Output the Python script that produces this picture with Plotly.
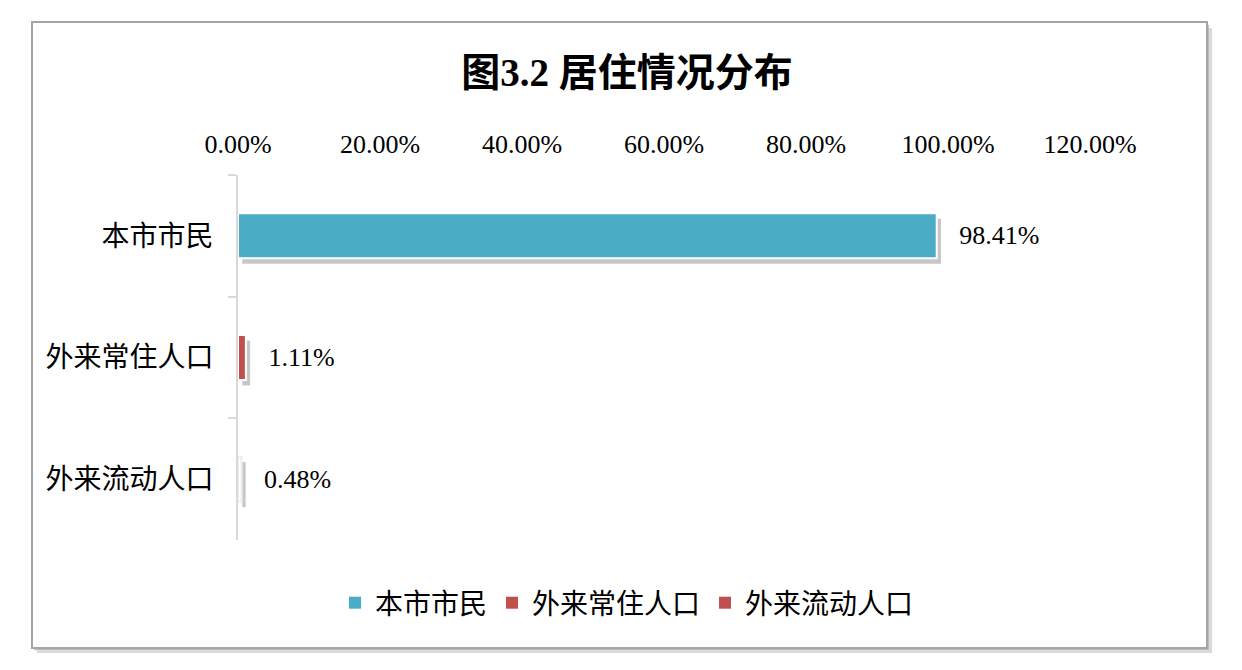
import plotly.graph_objects as go

# data
categories = ["本市市民", "外来常住人口", "外来流动人口"]
shares = [0.9841, 0.0111, 0.0048]
legend_colors = ["#4BACC6", "#C0504D", "#C0504D"]
bar_colors = ["#4BACC6", "#C0504D", "#FFFFFF"]

FONT = "Liberation Serif, Noto Sans CJK SC, serif"

# page has an 8px body margin, so positions below are page pixels minus 8
OFF = 8
W, H = 1226, 654
# plot area on the page: x 238..1090, y 175..540
L, R, T, B = 238 - OFF, W - (1090 - OFF), 175 - OFF, H - (540 - OFF)
pw, ph = W - L - R, H - T - B


def px(x):
    return (x - OFF - L) / pw


def py(y):
    return (H - B - (y - OFF)) / ph


BAR_W = 0.37
fig = go.Figure()

# bar shadows
fig.add_trace(go.Bar(
    y=categories,
    x=shares,
    base=0.006,
    orientation="h",
    width=BAR_W,
    offset=-BAR_W / 2 + 0.045,
    marker=dict(color="rgba(0,0,0,0.22)", line=dict(width=0)),
    showlegend=False,
    hoverinfo="skip",
))

fig.add_trace(go.Bar(
    y=categories,
    x=shares,
    orientation="h",
    width=BAR_W,
    offset=-BAR_W / 2,
    marker=dict(color=bar_colors,
                line=dict(color=["#FFFFFF", "#FFFFFF", "#EEEEEE"], width=2)),
    texttemplate="\u00a0\u00a0\u00a0%{x:.2%}",
    textposition="outside",
    textfont=dict(family=FONT, size=26, color="#000000"),
    cliponaxis=False,
    showlegend=False,
    hoverinfo="skip",
))

# legend entries
for name, col in zip(categories, legend_colors):
    fig.add_trace(go.Scatter(
        x=[None], y=[None], mode="markers", name=name,
        marker=dict(symbol="square", size=8, color=col),
    ))

shapes = [
    # outer shadow
    dict(type="rect", xref="paper", yref="paper", layer="below",
         x0=px(37), x1=px(1212), y0=py(28), y1=py(653),
         fillcolor="#DADADA", line=dict(width=0)),
    dict(type="rect", xref="paper", yref="paper", layer="below",
         x0=px(34), x1=px(1209), y0=py(25), y1=py(650),
         fillcolor="#BDBDBD", line=dict(width=0)),
    # frame
    dict(type="rect", xref="paper", yref="paper", layer="below",
         x0=px(32), x1=px(1207), y0=py(22), y1=py(648),
         fillcolor="#FFFFFF", line=dict(color="#A6A6A6", width=2)),
]

fig.update_layout(
    width=W, height=H,
    margin=dict(l=L, r=R, t=T, b=B),
    paper_bgcolor="#FFFFFF",
    plot_bgcolor="rgba(0,0,0,0)",
    shapes=shapes,
    barmode="overlay",
    title=dict(text="<b>图3.2 居住情况分布</b>", xref="container",
               x=(627 - OFF) / W, xanchor="center",
               y=1 - (72 - OFF) / H, yanchor="middle",
               font=dict(family=FONT, size=39, color="#000000")),
    font=dict(family=FONT, size=26, color="#000000"),
    xaxis=dict(side="top", range=[0, 1.2], dtick=0.2, tickformat=".2%",
               showgrid=False, zeroline=False, showline=False,
               ticks="", ticklabelstandoff=16,
               tickfont=dict(family=FONT, size=26, color="#000000")),
    yaxis=dict(autorange="reversed", showgrid=False, zeroline=False,
               showline=True, linecolor="#D9D9D9", linewidth=2,
               ticks="outside", tickson="boundaries", ticklen=8,
               tickcolor="#D9D9D9", tickwidth=2, ticklabelstandoff=17,
               tickfont=dict(family=FONT, size=28, color="#000000")),
    legend=dict(orientation="h", x=px(627), xanchor="center",
                y=py(603), yanchor="middle",
                font=dict(family=FONT, size=28, color="#000000"),
                itemsizing="constant", bgcolor="rgba(0,0,0,0)"),
)

fig.write_html("out.html")
